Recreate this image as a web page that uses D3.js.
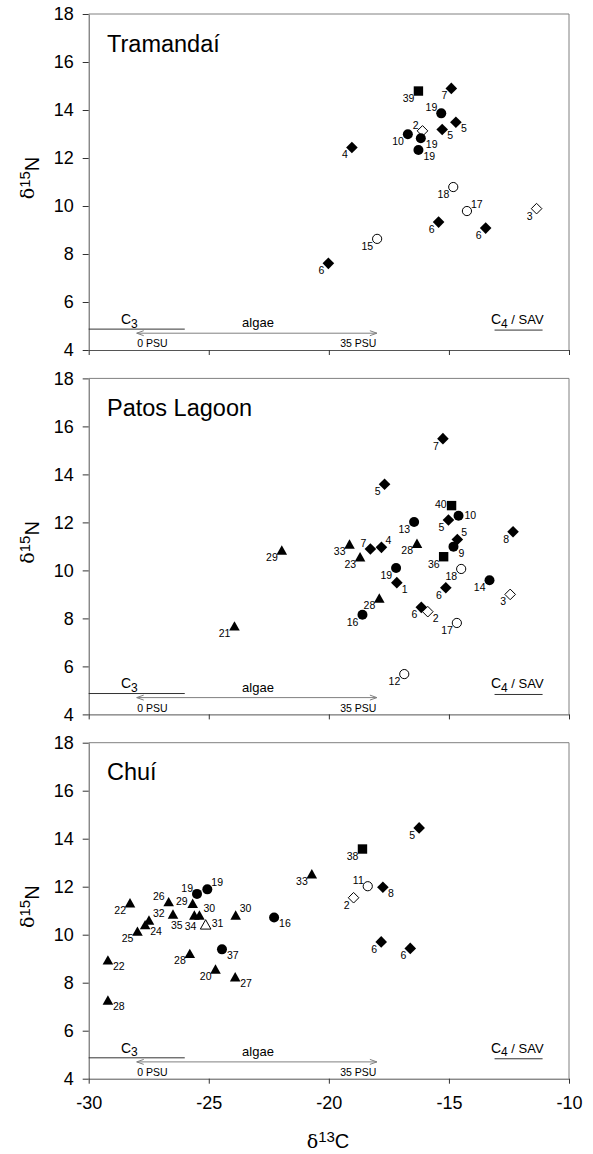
<!DOCTYPE html>
<html>
<head>
<meta charset="utf-8">
<script src="https://cdn.jsdelivr.net/npm/d3@7"></script>
<style>
  body { margin: 0; background: #fff; }
  svg { display: block; font-family: Arial, "Liberation Sans", sans-serif; }
</style>
</head>
<body>
<svg id="chart"></svg>
<script>
// axis ticks and panel names
const xTicks = [-30, -25, -20, -15, -10];
const yTicks = [4, 6, 8, 10, 12, 14, 16, 18];
const panelNames = ['Tramandaí', 'Patos Lagoon', 'Chuí'];

// symbol codes: D filled diamond, d open diamond, C filled circle, c open circle,
// S filled square, T filled triangle, t open triangle

// Tramandaí
const tramC = [-16.27, -14.90, -15.32, -14.71, -15.28, -16.10, -16.71, -16.17, -16.27, -19.04, -14.82, -14.25, -11.35, -15.43, -13.47, -17.99, -20.02];
const tramN = [14.79, 14.90, 13.86, 13.49, 13.19, 13.13, 12.99, 12.82, 12.33, 12.44, 10.79, 9.79, 9.89, 9.33, 9.08, 8.63, 7.61];
const tramSym = ['S', 'D', 'C', 'D', 'D', 'd', 'C', 'C', 'C', 'D', 'c', 'c', 'd', 'D', 'D', 'c', 'D'];
const tramLab = ['39', '7', '19', '5', '5', '2', '10', '19', '19', '4', '18', '17', '3', '6', '6', '15', '6'];

// Patos Lagoon
const patosC = [-15.25, -17.68, -14.89, -14.60, -15.02, -16.45, -12.33, -14.65, -14.81, -19.14, -18.27, -17.81, -16.33, -18.70, -15.22, -17.20, -14.49, -13.31, -17.17, -15.13, -21.96, -17.90, -16.15, -15.88, -12.45, -14.67, -18.60, -23.93, -16.86];
const patosN = [15.49, 13.59, 12.70, 12.28, 12.10, 12.02, 11.61, 11.29, 10.99, 11.10, 10.89, 10.96, 11.13, 10.57, 10.57, 10.10, 10.06, 9.59, 9.49, 9.28, 10.85, 8.85, 8.46, 8.28, 9.00, 7.81, 8.15, 7.69, 5.68];
const patosSym = ['D', 'D', 'S', 'C', 'D', 'C', 'D', 'D', 'C', 'T', 'D', 'D', 'T', 'T', 'S', 'C', 'c', 'C', 'D', 'D', 'T', 'T', 'D', 'd', 'd', 'c', 'C', 'T', 'c'];
const patosLab = ['7', '5', '40', '10', '5', '13', '8', '5', '9', '33', '7', '4', '28', '23', '36', '19', '18', '14', '1', '6', '29', '28', '6', '2', '3', '17', '16', '21', '12'];

// Chuí
const chuiC = [-28.28, -26.67, -25.49, -25.06, -25.67, -27.49, -26.49, -25.60, -25.39, -25.13, -23.88, -22.28, -27.65, -27.97, -24.45, -25.79, -29.20, -24.72, -23.90, -29.20, -16.24, -18.60, -20.71, -18.38, -17.75, -18.97, -17.82, -16.61];
const chuiN = [11.33, 11.38, 11.70, 11.89, 11.31, 10.61, 10.86, 10.82, 10.82, 10.43, 10.82, 10.72, 10.42, 10.15, 9.39, 9.22, 8.95, 8.57, 8.25, 7.28, 14.45, 13.57, 12.54, 12.02, 11.98, 11.54, 9.70, 9.43];
const chuiSym = ['T', 'T', 'C', 'C', 'T', 'T', 'T', 'T', 'T', 't', 'T', 'C', 'T', 'T', 'C', 'T', 'T', 'T', 'T', 'T', 'D', 'S', 'T', 'c', 'D', 'd', 'D', 'D'];
const chuiLab = ['22', '26', '19', '19', '29', '32', '35', '34', '30', '31', '30', '16', '24', '25', '37', '28', '22', '20', '27', '28', '5', '38', '33', '11', '8', '2', '6', '6'];

// source ranges (δ13C) drawn at the foot of each panel
const c3Range = [-30, -26];
const algaeRange = [-28, -18];
const c4Range = [-13.1, -11.1];

// label placement around each marker
const tramPos = ['ll', 'll', 'ul', 'lr', 'lr', 'ul', 'll', 'lr', 'lr', 'll', 'll', 'ur', 'll', 'll', 'll', 'll', 'll'];
const patosPos = ['ll', 'll', 'l', 'r', 'll', 'll', 'll', 'ur', 'lr', 'll', 'ul', 'ur', 'll', 'll', 'll', 'll', 'll', 'll', 'lr', 'll', 'll', 'll', 'll', 'lr', 'll', 'll', 'll', 'll', 'll'];
const chuiPos = ['ll', 'ul', 'ul', 'ur', 'l', 'ur', 'br', 'bl', 'ur', 'r', 'ur', 'lr', 'lr', 'll', 'lr', 'll', 'lr', 'll', 'lr', 'lr', 'll', 'll', 'll', 'ul', 'lr', 'll', 'll', 'll'];
const place = {
  ll: [-4, 11, 'end'], lr: [5, 10, 'start'], ul: [-4, -2, 'end'], ur: [4, -3, 'start'],
  l: [-5, 2, 'end'], r: [6, 3, 'start'], bl: [2, 15, 'end'], br: [-2, 15, 'start']
};

const panels = [
  { name: panelNames[0], c: tramC, n: tramN, sym: tramSym, lab: tramLab, pos: tramPos },
  { name: panelNames[1], c: patosC, n: patosN, sym: patosSym, lab: patosLab, pos: patosPos },
  { name: panelNames[2], c: chuiC, n: chuiN, sym: chuiSym, lab: chuiLab, pos: chuiPos }
];

const width = 593, height = 1154;
const panelTops = [14, 378.4, 742.7];
const panelH = 336;
const left = 88.7, right = 569;

const svg = d3.select('#chart').attr('width', width).attr('height', height);
const x = d3.scaleLinear().domain([-30, -10]).range([left, right]);

const marker = (g, s, cx, cy) => {
  if (s === 'D' || s === 'd') {
    const r = s === 'D' ? 5.8 : 5.3;
    g.append('path')
      .attr('d', `M${cx},${cy - r}L${cx + r},${cy}L${cx},${cy + r}L${cx - r},${cy}Z`)
      .attr('fill', s === 'D' ? '#000' : '#fff').attr('stroke', '#000').attr('stroke-width', s === 'D' ? 0 : 1);
  } else if (s === 'C' || s === 'c') {
    g.append('circle').attr('cx', cx).attr('cy', cy).attr('r', s === 'C' ? 5 : 4.6)
      .attr('fill', s === 'C' ? '#000' : '#fff').attr('stroke', '#000').attr('stroke-width', s === 'C' ? 0 : 1);
  } else if (s === 'S') {
    g.append('rect').attr('x', cx - 4.7).attr('y', cy - 4.7).attr('width', 9.4).attr('height', 9.4).attr('fill', '#000');
  } else {
    const w = 5.3, h = 4.7;
    g.append('path')
      .attr('d', `M${cx},${cy - h}L${cx + w},${cy + h}L${cx - w},${cy + h}Z`)
      .attr('fill', s === 'T' ? '#000' : '#fff').attr('stroke', '#000').attr('stroke-width', s === 'T' ? 0 : 1);
  }
};

panels.forEach((p, i) => {
  const top = panelTops[i];
  const y = d3.scaleLinear().domain([4, 18]).range([top + panelH, top]);
  const g = svg.append('g');

  // frame
  g.append('path')
    .attr('d', `M${left},${y(18)}H${right}V${y(4)}`)
    .attr('fill', 'none').attr('stroke', '#808080').attr('stroke-width', 1);

  const ya = g.append('g').attr('transform', `translate(${left},0)`)
    .call(d3.axisLeft(y).tickValues(yTicks).tickSize(6).tickSizeOuter(0).tickPadding(9).tickFormat(d => String(d)));
  const xa = g.append('g').attr('transform', `translate(0,${y(4)})`)
    .call(d3.axisBottom(x).tickValues(xTicks).tickSize(5).tickSizeOuter(0).tickPadding(13)
      .tickFormat(d => i === 2 ? String(d) : ''));
  [ya, xa].forEach(a => {
    a.select('.domain').attr('stroke', '#555');
    a.selectAll('.tick line').attr('stroke', '#333');
    a.selectAll('text').attr('font-size', 18).attr('font-family', 'Arial, "Liberation Sans", sans-serif').attr('fill', '#000');
  });

  // panel name
  g.append('text').attr('x', 107).attr('y', top + 37.5).attr('font-size', 23.5).text(p.name);

  // y label
  const yl = g.append('text')
    .attr('transform', `translate(39,${top + panelH / 2 - 4}) rotate(-90)`)
    .attr('text-anchor', 'middle');
  yl.append('tspan').attr('font-family', 'DejaVu Serif, serif').attr('font-size', 19).attr('dy', -5).text('δ');
  yl.append('tspan').attr('font-size', 15).attr('dy', -4).text('15');
  yl.append('tspan').attr('font-size', 20).attr('dy', 9).text('N');

  // source ranges
  g.append('line').attr('x1', x(c3Range[0])).attr('x2', x(c3Range[1]))
    .attr('y1', y(4.87)).attr('y2', y(4.87)).attr('stroke', '#333');
  const c3 = g.append('text').attr('x', x(-28.66)).attr('y', y(5.08)).attr('font-size', 14);
  c3.append('tspan').text('C');
  c3.append('tspan').attr('font-size', 12).attr('dy', 3.5).text('3');

  const ay = y(4.7), ax0 = x(algaeRange[0]), ax1 = x(algaeRange[1]);
  g.append('path')
    .attr('d', `M${ax0},${ay}H${ax1}M${ax0 + 7},${ay - 2.5}L${ax0},${ay}L${ax0 + 7},${ay + 2.5}M${ax1 - 7},${ay - 2.5}L${ax1},${ay}L${ax1 - 7},${ay + 2.5}`)
    .attr('fill', 'none').attr('stroke', '#808080').attr('stroke-width', 1);
  g.append('text').attr('x', x(-22.95)).attr('y', y(4.95)).attr('text-anchor', 'middle').attr('font-size', 13).text('algae');
  g.append('text').attr('x', x(algaeRange[0]) + 0.5).attr('y', y(4.12)).attr('font-size', 10.5).text('0 PSU');
  g.append('text').attr('x', x(algaeRange[1]) - 0.5).attr('y', y(4.12)).attr('text-anchor', 'end').attr('font-size', 10.5).text('35 PSU');

  g.append('line').attr('x1', x(c4Range[0])).attr('x2', x(c4Range[1]))
    .attr('y1', y(4.83)).attr('y2', y(4.83)).attr('stroke', '#333');
  const c4 = g.append('text').attr('x', x(-13.25)).attr('y', y(5.08)).attr('font-size', 14);
  c4.append('tspan').text('C');
  c4.append('tspan').attr('font-size', 12).attr('dy', 3.5).text('4');
  c4.append('tspan').attr('font-size', 13).attr('dy', -3.5).text(' / SAV');

  // points and labels
  const pts = g.append('g');
  p.c.forEach((c, k) => {
    const cx = x(c), cy = y(p.n[k]);
    marker(pts, p.sym[k], cx, cy);
    const pl = place[p.pos[k]];
    pts.append('text').attr('x', cx + pl[0]).attr('y', cy + pl[1])
      .attr('text-anchor', pl[2]).attr('font-size', 10.5).text(p.lab[k]);
  });
});

// x label
const xl = svg.append('text').attr('x', 328).attr('y', 1148).attr('text-anchor', 'middle');
xl.append('tspan').attr('font-family', 'DejaVu Serif, serif').attr('font-size', 19).text('δ');
xl.append('tspan').attr('font-size', 15).attr('dy', -6).text('13');
xl.append('tspan').attr('font-size', 20).attr('dy', 6).text('C');
</script>
</body>
</html>
